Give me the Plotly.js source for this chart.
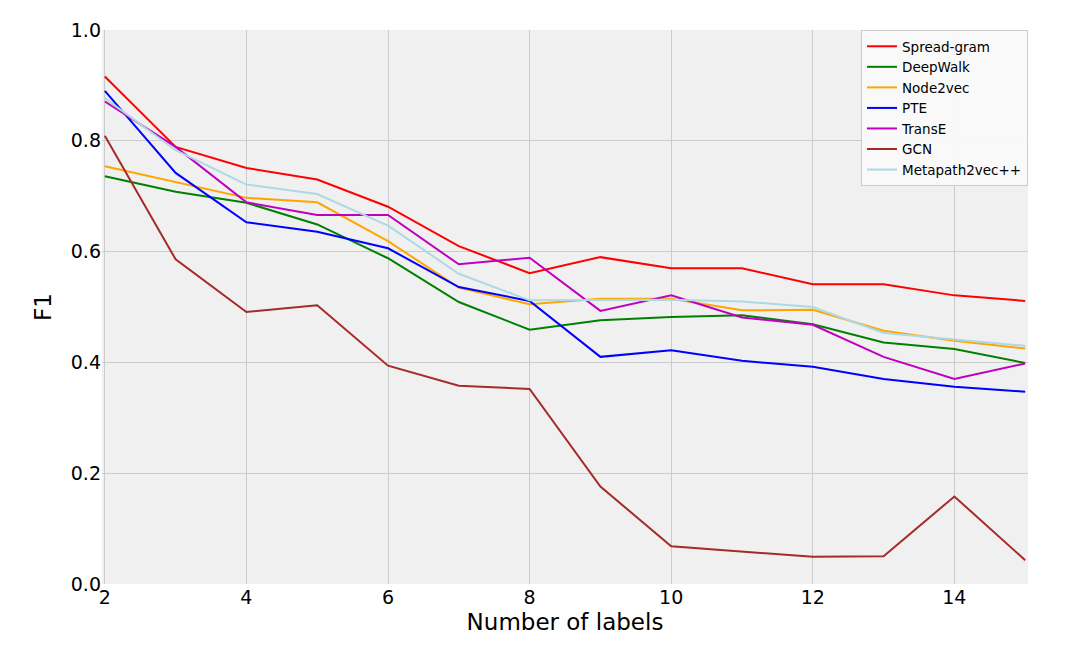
<!DOCTYPE html>
<html>
<head>
<meta charset="utf-8">
<script src="https://cdn.plot.ly/plotly-3.0.1.min.js"></script>
<style>
  html, body { margin: 0; padding: 0; background: #ffffff; }
  #graph { width: 1080px; height: 646px; }
</style>
</head>
<body>
<div id="graph"></div>
<script>
const numLabels = [2, 3, 4, 5, 6, 7, 8, 9, 10, 11, 12, 13, 14, 15];

const spreadGram = [0.916, 0.789, 0.751, 0.730, 0.681, 0.610, 0.561, 0.590, 0.570, 0.570, 0.541, 0.541, 0.521, 0.511];
const deepWalk = [0.736, 0.708, 0.688, 0.649, 0.588, 0.509, 0.459, 0.476, 0.482, 0.485, 0.469, 0.436, 0.424, 0.399];
const node2vec = [0.754, 0.726, 0.697, 0.689, 0.619, 0.535, 0.505, 0.515, 0.515, 0.494, 0.495, 0.457, 0.439, 0.425];
const pte = [0.890, 0.742, 0.653, 0.636, 0.606, 0.536, 0.511, 0.410, 0.422, 0.403, 0.392, 0.370, 0.356, 0.347];
const transE = [0.871, 0.789, 0.689, 0.666, 0.666, 0.577, 0.589, 0.493, 0.521, 0.481, 0.468, 0.410, 0.370, 0.398];
const gcn = [0.809, 0.586, 0.491, 0.503, 0.394, 0.358, 0.352, 0.176, 0.068, 0.059, 0.049, 0.050, 0.158, 0.043];
const metapath2vec = [0.877, 0.783, 0.721, 0.704, 0.647, 0.560, 0.512, 0.513, 0.513, 0.510, 0.500, 0.453, 0.442, 0.430];

const seriesNames = ["Spread-gram", "DeepWalk", "Node2vec", "PTE", "TransE", "GCN", "Metapath2vec++"];
const seriesValues = [spreadGram, deepWalk, node2vec, pte, transE, gcn, metapath2vec];
const seriesColors = ["#ff0000", "#008000", "#ffa500", "#0000ff", "#bf00bf", "#a52a2a", "#add8e6"];

const xTicks = [2, 4, 6, 8, 10, 12, 14];
const yTicks = [0.0, 0.2, 0.4, 0.6, 0.8, 1.0];

let traces = seriesNames.map((name, i) => ({
  type: "scatter",
  mode: "lines",
  name: name,
  x: numLabels,
  y: seriesValues[i],
  line: { color: seriesColors[i], width: 2 },
}));

let layout = {
  width: 1080,
  height: 646,
  paper_bgcolor: "#ffffff",
  plot_bgcolor: "#f0f0f0",
  font: { family: "DejaVu Sans, sans-serif", color: "#000000", size: 19 },
  margin: { l: 102, r: 52, t: 30, b: 62, pad: 0 },
  showlegend: true,
  legend: {
    x: 1,
    xanchor: "right",
    y: 1,
    yanchor: "top",
    bgcolor: "rgba(250,250,250,0.9)",
    bordercolor: "#cccccc",
    borderwidth: 1,
    font: { size: 13.5, color: "#000000" },
    tracegroupgap: 0,
  },
  xaxis: {
    range: [1.96, 15.04],
    tickvals: xTicks,
    ticktext: xTicks.map(String),
    showgrid: true,
    gridcolor: "#cbcbcb",
    gridwidth: 1,
    zeroline: false,
    showline: false,
    ticks: "",
    tickfont: { size: 19 },
    title: { text: "Number of labels", font: { size: 23 }, standoff: 6 },
  },
  yaxis: {
    range: [0, 1],
    tickvals: yTicks,
    ticktext: yTicks.map((v) => v.toFixed(1)),
    showgrid: true,
    gridcolor: "#cbcbcb",
    gridwidth: 1,
    zeroline: false,
    showline: false,
    ticks: "",
    tickfont: { size: 19 },
    title: { text: "F1", font: { size: 23 }, standoff: 12 },
  },
};

Plotly.newPlot("graph", traces, layout, { displayModeBar: false, staticPlot: true });
</script>
</body>
</html>
